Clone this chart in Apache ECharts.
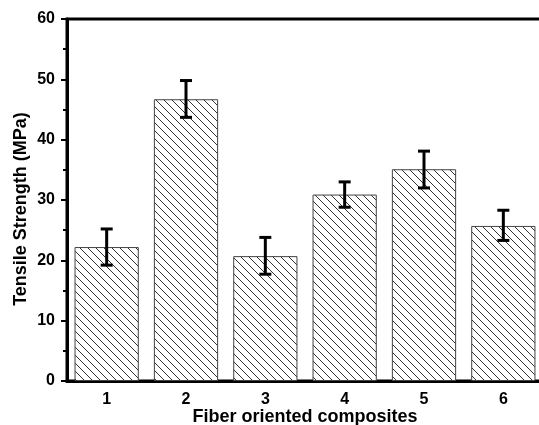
<!DOCTYPE html>
<html>
<head>
  <meta charset="UTF-8">
  <title>Tensile strength</title>
  <style type="text/css">
    html, body { margin: 0; padding: 0; background: #ffffff; }
    #chart { width: 539px; height: 425px; }
  </style>
  <script src="https://cdn.jsdelivr.net/npm/echarts@6/dist/echarts.min.js"></script>
</head>
<body>
<div id="chart"></div>
<script type="text/javascript">
    // values
    var categories = ['1', '2', '3', '4', '5', '6'];
    var strength = [22.2, 46.7, 20.7, 30.9, 35.1, 25.7];
    var errLow = [19.2, 43.7, 17.7, 28.8, 32.0, 23.3];
    var errHigh = [25.2, 49.8, 23.8, 33.0, 38.1, 28.3];

    // diagonal hatch tile
    function hatch() {
        var c = document.createElement('canvas');
        c.width = 8; c.height = 8;
        var g = c.getContext('2d');
        g.fillStyle = '#fff';
        g.fillRect(0, 0, 8, 8);
        g.strokeStyle = '#333';
        g.lineWidth = 1;
        g.beginPath();
        g.moveTo(-1, -1); g.lineTo(9, 9);
        g.moveTo(-1, 7); g.lineTo(1, 9);
        g.moveTo(7, -1); g.lineTo(9, 1);
        g.stroke();
        return c;
    }

    var errData = [];
    for (var i = 0; i < categories.length; i++) {
        errData.push([i, errLow[i], errHigh[i]]);
    }

    var font = 'Liberation Sans, Arial, sans-serif';
    var myChart = echarts.init(document.getElementById('chart'));
    var option = {
        animation: false,
        grid: {
            left: 67, top: 19, width: 476, bottom: 44,
            outerBoundsMode: 'none',
            containLabel: false,
            show: true, borderColor: '#000', borderWidth: 3
        },
        xAxis: [{
            type: 'category',
            data: categories,
            name: 'Fiber oriented composites',
            nameLocation: 'middle',
            nameGap: 27,
            nameMoveOverlap: false,
            nameTextStyle: { fontFamily: font, fontWeight: 'bold', fontSize: 18, color: '#000' },
            axisLine: { lineStyle: { color: '#000', width: 3 } },
            axisTick: { alignWithLabel: true, length: 6, lineStyle: { width: 2, color: '#000' } },
            axisLabel: { fontFamily: font, fontWeight: 'bold', fontSize: 16, color: '#000', margin: 11 }
        }, {
            type: 'category',
            data: categories,
            position: 'bottom',
            axisLine: { show: false },
            axisTick: { length: 3, lineStyle: { width: 2, color: '#000' } },
            axisLabel: { show: false }
        }],
        yAxis: {
            type: 'value',
            min: 0, max: 60, interval: 10,
            name: 'Tensile Strength (MPa)',
            nameLocation: 'middle',
            nameGap: 37,
            nameMoveOverlap: false,
            nameTextStyle: { fontFamily: font, fontWeight: 'bold', fontSize: 18, color: '#000', padding: [0, 18, 0, 0] },
            axisLine: { show: true, lineStyle: { color: '#000', width: 3 } },
            axisTick: { show: true, length: 6, lineStyle: { width: 2, color: '#000' } },
            minorTick: { show: true, splitNumber: 2, length: 4, lineStyle: { width: 2, color: '#000' } },
            splitLine: { show: false },
            axisLabel: { fontFamily: font, fontWeight: 'bold', fontSize: 16, color: '#000', margin: 12 }
        },
        series: [{
            type: 'bar',
            data: strength,
            barCategoryGap: '19%',
            itemStyle: {
                color: { image: hatch(), repeat: 'repeat' },
                borderColor: '#444',
                borderWidth: 1
            }
        }, {
            type: 'custom',
            data: errData,
            z: 5,
            renderItem: function (params, api) {
                var x = api.value(0);
                var lo = api.coord([x, api.value(1)]);
                var hi = api.coord([x, api.value(2)]);
                var w = 6;
                var st = { stroke: '#000', lineWidth: 3 };
                return {
                    type: 'group',
                    children: [
                        { type: 'line', shape: { x1: lo[0], y1: lo[1], x2: hi[0], y2: hi[1] }, style: st },
                        { type: 'line', shape: { x1: lo[0] - w, y1: lo[1], x2: lo[0] + w, y2: lo[1] }, style: st },
                        { type: 'line', shape: { x1: hi[0] - w, y1: hi[1], x2: hi[0] + w, y2: hi[1] }, style: st }
                    ]
                };
            }
        }]
    };
    myChart.setOption(option);
</script>
</body>
</html>
